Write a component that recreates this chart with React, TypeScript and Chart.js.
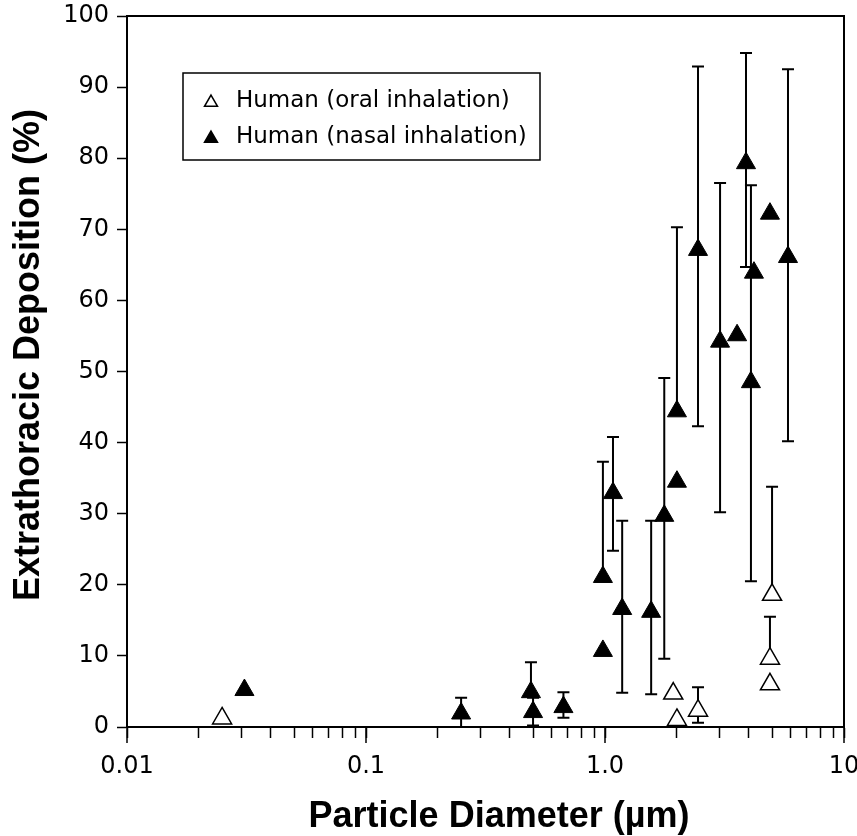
import React, { useEffect, useRef } from "react";
import { Chart, registerables } from "chart.js";

Chart.register(...registerables);

// ---------- data ----------
const seriesLabels = ["Human (oral inhalation)", "Human (nasal inhalation)"];

const oralDiameter = [0.025, 1.93, 2.0, 2.45, 4.9, 4.9, 5.0];
const oralDeposition = [1.2, 4.7, 1.0, 2.3, 9.6, 6.0, 18.6];
const oralErrUpper = [null, null, null, 5.6, 15.5, null, 33.8];
const oralErrLower = [null, null, null, 0.6, null, null, null];

const nasalDiameter = [0.031, 0.25, 0.49, 0.5, 0.67, 0.98, 0.98, 1.08, 1.18, 1.56, 1.77, 2.0, 2.0, 2.45, 3.03, 3.57, 3.89, 4.08, 4.2, 4.9, 5.83];
const nasalDeposition = [5.2, 1.9, 4.9, 2.1, 2.8, 10.7, 21.1, 32.9, 16.6, 16.2, 29.7, 34.5, 44.4, 67.1, 54.2, 55.1, 79.3, 48.5, 63.9, 72.2, 66.1];
const nasalErrUpper = [null, 4.1, 9.1, 4.1, 4.9, null, 37.3, 40.8, 29.0, 29.0, 49.1, null, 70.3, 92.9, 76.5, null, 94.8, 76.2, null, null, 92.5];
const nasalErrLower = [null, 0, null, 0.2, 1.3, null, null, 24.8, 4.8, 4.6, 9.6, null, null, 42.3, 30.2, null, 64.7, 20.5, null, null, 40.2];

const xDecades = [0.01, 0.1, 1, 10];
const xDecadeLabels = ["0.01", "0.1", "1.0", "10"];
const xMinorMultipliers = [2, 3, 4, 5, 6, 7, 8, 9];
const yMin = 0;
const yMax = 100;
const yStep = 10;

const xAxisTitle = "Particle Diameter (µm)";
const yAxisTitle = "Extrathoracic Deposition (%)";

// ---------- styling ----------
const TICK_FONT = "'DejaVu Sans', sans-serif";
const TITLE_FONT = "'Liberation Sans', Arial, sans-serif";

function toPoints(xs: number[], ys: number[]) {
  return xs.map((x, i) => ({ x, y: ys[i] }));
}

function drawTriangle(ctx: CanvasRenderingContext2D, x: number, y: number, r: number, filled: boolean) {
  ctx.beginPath();
  for (let k = 0; k < 3; k++) {
    const a = (k * 2 * Math.PI) / 3;
    const px = x + Math.sin(a) * r;
    const py = y - Math.cos(a) * r;
    if (k === 0) ctx.moveTo(px, py);
    else ctx.lineTo(px, py);
  }
  ctx.closePath();
  ctx.fillStyle = filled ? "#000" : "#fff";
  ctx.fill();
  ctx.lineWidth = 1.5;
  ctx.strokeStyle = "#000";
  ctx.stroke();
}

const errorBarPlugin = {
  id: "errorBars",
  beforeDatasetsDraw(chart: any) {
    const ctx = chart.ctx as CanvasRenderingContext2D;
    const yScale = chart.scales.y;
    chart.data.datasets.forEach((ds: any, i: number) => {
      const meta = chart.getDatasetMeta(i);
      meta.data.forEach((pt: any, j: number) => {
        const ends = [ds.errUpper[j], ds.errLower[j]];
        ends.forEach((v: number | null) => {
          if (v === null || v === undefined) return;
          const yy = yScale.getPixelForValue(v);
          ctx.save();
          ctx.strokeStyle = "#000";
          ctx.lineWidth = 2;
          ctx.beginPath();
          ctx.moveTo(pt.x, pt.y);
          ctx.lineTo(pt.x, yy);
          ctx.moveTo(pt.x - 6, yy);
          ctx.lineTo(pt.x + 6, yy);
          ctx.stroke();
          ctx.restore();
        });
      });
    });
  },
};

const framePlugin = {
  id: "frame",
  afterDraw(chart: any) {
    const ctx = chart.ctx as CanvasRenderingContext2D;
    const { left, right, top, bottom } = chart.chartArea;
    const xScale = chart.scales.x;
    ctx.save();
    ctx.strokeStyle = "#000";
    // top and right border of the plot box
    ctx.lineWidth = 2;
    ctx.beginPath();
    ctx.moveTo(left, top);
    ctx.lineTo(right, top);
    ctx.lineTo(right, bottom);
    ctx.stroke();
    // longer major ticks on the log axis
    ctx.lineWidth = 1.5;
    xDecades.forEach((d) => {
      const px = xScale.getPixelForValue(d);
      ctx.beginPath();
      ctx.moveTo(px, bottom);
      ctx.lineTo(px, bottom + 16);
      ctx.stroke();
    });

    // axis titles
    ctx.fillStyle = "#000";
    ctx.font = `bold 36px ${TITLE_FONT}`;
    ctx.textAlign = "center";
    ctx.textBaseline = "alphabetic";
    ctx.fillText(xAxisTitle, 499, 827);
    ctx.save();
    ctx.translate(39, 355);
    ctx.rotate(-Math.PI / 2);
    ctx.fillText(yAxisTitle, 0, 0);
    ctx.restore();

    // legend
    const lx = 183, ly = 73, lw = 357, lh = 87;
    ctx.lineWidth = 1.5;
    ctx.strokeRect(lx, ly, lw, lh);
    const rows = [101, 137];
    ctx.font = `23px ${TICK_FONT}`;
    ctx.textAlign = "left";
    ctx.textBaseline = "middle";
    chart.data.datasets.forEach((ds: any, i: number) => {
      const ry = rows[i];
      drawTriangle(ctx, 211, ry + 1.5, 7.5, i === 1);
      ctx.fillStyle = "#000";
      ctx.fillText(ds.label, 236, ry);
    });
    ctx.restore();
  },
};

export default function App() {
  const canvasRef = useRef<HTMLCanvasElement | null>(null);

  useEffect(() => {
    if (!canvasRef.current) return;
    const chart = new Chart(canvasRef.current, {
      type: "scatter",
      data: {
        datasets: [
          {
            label: seriesLabels[0],
            data: toPoints(oralDiameter, oralDeposition),
            errUpper: oralErrUpper,
            errLower: oralErrLower,
            pointStyle: "triangle",
            pointRadius: 11,
            pointBackgroundColor: "#fff",
            pointBorderColor: "#000",
            pointBorderWidth: 1.5,
            showLine: false,
          } as any,
          {
            label: seriesLabels[1],
            data: toPoints(nasalDiameter, nasalDeposition),
            errUpper: nasalErrUpper,
            errLower: nasalErrLower,
            pointStyle: "triangle",
            pointRadius: 11,
            pointBackgroundColor: "#000",
            pointBorderColor: "#000",
            pointBorderWidth: 1,
            showLine: false,
          } as any,
        ],
      },
      options: {
        responsive: false,
        animation: false,
        devicePixelRatio: 1,
        layout: { padding: { top: 16, right: 13, left: 0, bottom: 0 } },
        plugins: {
          legend: { display: false },
          tooltip: { enabled: false },
        },
        events: [],
        scales: {
          x: {
            type: "logarithmic",
            min: xDecades[0],
            max: xDecades[xDecades.length - 1],
            afterFit: (scale: any) => {
              scale.height = 109;
              scale.paddingLeft = 0;
              scale.paddingRight = 0;
            },
            afterBuildTicks: (scale: any) => {
              const ticks: any[] = [];
              xDecades.forEach((d, i) => {
                ticks.push({ value: d, major: true });
                if (i < xDecades.length - 1) {
                  xMinorMultipliers.forEach((m) => ticks.push({ value: m * d, major: false }));
                }
              });
              scale.ticks = ticks;
            },
            ticks: {
              autoSkip: false,
              maxRotation: 0,
              minRotation: 0,
              color: "#000",
              padding: 14,
              font: { family: TICK_FONT, size: 24 },
              callback: (value: any) => {
                const idx = xDecades.findIndex((d) => Math.abs(Number(value) - d) / d < 1e-6);
                return idx >= 0 ? xDecadeLabels[idx] : "";
              },
            },
            grid: {
              display: true,
              drawOnChartArea: false,
              drawTicks: true,
              tickLength: 11,
              tickColor: "#000",
              tickWidth: 1.5,
            },
            border: { display: true, color: "#000", width: 2 },
          },
          y: {
            type: "linear",
            min: yMin,
            max: yMax,
            afterFit: (scale: any) => {
              scale.width = 127;
              scale.paddingTop = 0;
              scale.paddingBottom = 0;
            },
            ticks: {
              stepSize: yStep,
              color: "#000",
              padding: 8,
              font: { family: TICK_FONT, size: 24 },
            },
            grid: {
              display: true,
              drawOnChartArea: false,
              drawTicks: true,
              tickLength: 10,
              tickColor: "#000",
              tickWidth: 1.5,
            },
            border: { display: true, color: "#000", width: 2 },
          },
        },
      } as any,
      plugins: [errorBarPlugin, framePlugin],
    });
    return () => chart.destroy();
  }, []);

  return (
    <div style={{ position: "fixed", left: 0, top: 0, width: 857, height: 836, background: "#fff" }}>
      <canvas ref={canvasRef} width={857} height={836} style={{ display: "block" }} />
    </div>
  );
}
